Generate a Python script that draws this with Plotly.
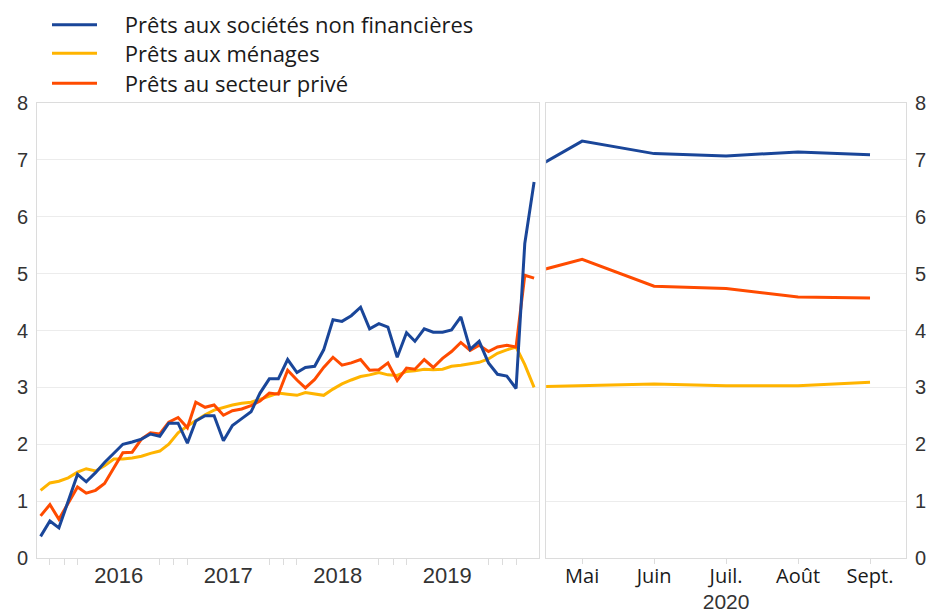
import plotly.graph_objects as go
import pandas as pd

# ---- data (growth rates, %) ----
months_left = pd.date_range("2015-10-01", "2020-04-01", freq="MS") + pd.Timedelta(days=14)

nfc_left = [0.38, 0.65, 0.53, 1.00, 1.47, 1.34, 1.50, 1.68, 1.85, 2.00, 2.04, 2.09, 2.18, 2.14,
            2.37, 2.37, 2.02, 2.41, 2.50, 2.50, 2.06, 2.33, 2.45, 2.57, 2.90, 3.15, 3.15, 3.49,
            3.26, 3.35, 3.37, 3.66, 4.19, 4.16, 4.26, 4.41, 4.03, 4.12, 4.06, 3.53, 3.96, 3.81,
            4.03, 3.97, 3.97, 4.01, 4.24, 3.67, 3.81, 3.43, 3.23, 3.20, 2.98, 5.53, 6.61]
hh_left = [1.19, 1.32, 1.35, 1.41, 1.51, 1.57, 1.53, 1.62, 1.74, 1.74, 1.76, 1.79, 1.84, 1.88,
           2.00, 2.20, 2.32, 2.41, 2.52, 2.60, 2.65, 2.69, 2.72, 2.74, 2.79, 2.85, 2.90, 2.88,
           2.86, 2.91, 2.88, 2.86, 2.97, 3.06, 3.13, 3.19, 3.22, 3.26, 3.22, 3.21, 3.28, 3.29,
           3.32, 3.31, 3.32, 3.37, 3.39, 3.41, 3.44, 3.50, 3.60, 3.66, 3.71, 3.40, 3.00]
priv_left = [0.74, 0.94, 0.68, 0.97, 1.25, 1.14, 1.19, 1.31, 1.59, 1.85, 1.86, 2.09, 2.20, 2.18,
             2.39, 2.47, 2.29, 2.74, 2.65, 2.69, 2.51, 2.59, 2.62, 2.68, 2.76, 2.90, 2.88, 3.30,
             3.13, 2.99, 3.14, 3.35, 3.53, 3.39, 3.43, 3.49, 3.30, 3.31, 3.43, 3.12, 3.34, 3.32,
             3.49, 3.35, 3.51, 3.63, 3.79, 3.65, 3.74, 3.63, 3.71, 3.74, 3.71, 4.97, 4.92]

months_right = ["Avr.", "Mai", "Juin", "Juil.", "Août", "Sept."]
nfc_right = [6.61, 7.33, 7.11, 7.07, 7.14, 7.09]
hh_right = [3.00, 3.03, 3.06, 3.03, 3.03, 3.09]
priv_right = [4.92, 5.25, 4.78, 4.74, 4.59, 4.57]

year_tickvals = ["2016-07-01", "2017-07-01", "2018-07-01", "2019-07-01"]
year_ticktext = ["2016", "2017", "2018", "2019"]
minor_tickvals = ["2015-11-15", "2016-01-01", "2016-02-15",
                  "2016-11-15", "2017-01-01", "2017-02-15",
                  "2017-11-15", "2018-01-01", "2018-02-15",
                  "2018-11-15", "2019-01-01", "2019-02-15",
                  "2019-11-15", "2020-01-01", "2020-02-15"]

names = ["    Prêts aux sociétés non financières", "    Prêts aux ménages", "    Prêts au secteur privé"]
BLUE, YELLOW, ORANGE = "#1a4699", "#ffb400", "#ff4b00"

fig = go.Figure()
# drawing order: yellow, orange, blue ; each series has its own legend entry box
for name, col, yl, yr, leg in [
    (names[1], YELLOW, hh_left, hh_right, "legend2"),
    (names[2], ORANGE, priv_left, priv_right, "legend3"),
    (names[0], BLUE, nfc_left, nfc_right, "legend"),
]:
    fig.add_trace(go.Scatter(x=months_left, y=yl, mode="lines", name=name,
                             line=dict(color=col, width=3), legend=leg,
                             xaxis="x", yaxis="y"))
    fig.add_trace(go.Scatter(x=months_right, y=yr, mode="lines", name=name,
                             line=dict(color=col, width=3), showlegend=False,
                             xaxis="x2", yaxis="y2"))

GRID = "#ececec"
FRAME = "#dcdcdc"
TXT = "#333333"
W, H = 926, 605


def leg(ycenter_px):
    return dict(xref="container", yref="container",
                x=39 / W, y=1 - ycenter_px / H, xanchor="left", yanchor="middle",
                font=dict(family="Open Sans", size=22, color="#1a1a1a"),
                itemwidth=45, bgcolor="rgba(0,0,0,0)", borderwidth=0)


fig.update_layout(
    width=W, height=H,
    margin=dict(l=29, r=28, t=95, b=55, autoexpand=False),
    paper_bgcolor="white", plot_bgcolor="white",
    showlegend=True,
    legend=leg(17), legend2=leg(45.5), legend3=leg(75.5),
    xaxis=dict(domain=[0, 0.5779], type="date",
               range=["2015-10-03", "2020-05-02"],
               tickvals=year_tickvals, ticktext=year_ticktext, ticks="",
               tickfont=dict(family="Liberation Sans", size=22, color=TXT),
               showgrid=False, showline=True, linecolor=FRAME, mirror=True,
               zeroline=False, ticklabelstandoff=-2,
               minor=dict(tickvals=minor_tickvals, ticks="outside", ticklen=6,
                          tickcolor=FRAME, showgrid=False)),
    yaxis=dict(domain=[0, 1], range=[0, 8], dtick=1, anchor="x",
               tickfont=dict(family="Liberation Sans", size=20, color=TXT),
               gridcolor=GRID, showline=True, linecolor=FRAME, mirror=True,
               zeroline=False, ticks="", ticklabelstandoff=4),
    xaxis2=dict(domain=[0.5859, 1], type="category", range=[0.5, 5.5], anchor="y2",
                tickfont=dict(family="Open Sans", size=20, color="#1a1a1a"),
                ticks="outside", ticklen=5, tickcolor=FRAME, ticklabelstandoff=-5,
                showgrid=False, showline=True, linecolor=FRAME, mirror=True,
                title=dict(text="2020", font=dict(family="Liberation Sans", size=21, color=TXT),
                           standoff=11)),
    yaxis2=dict(domain=[0, 1], range=[0, 8], dtick=1, anchor="x2", side="right",
                tickfont=dict(family="Liberation Sans", size=20, color=TXT),
                gridcolor=GRID, showline=True, linecolor=FRAME, mirror=True,
                zeroline=False, ticks="", ticklabelstandoff=4),
)

fig.write_html("out.html")
